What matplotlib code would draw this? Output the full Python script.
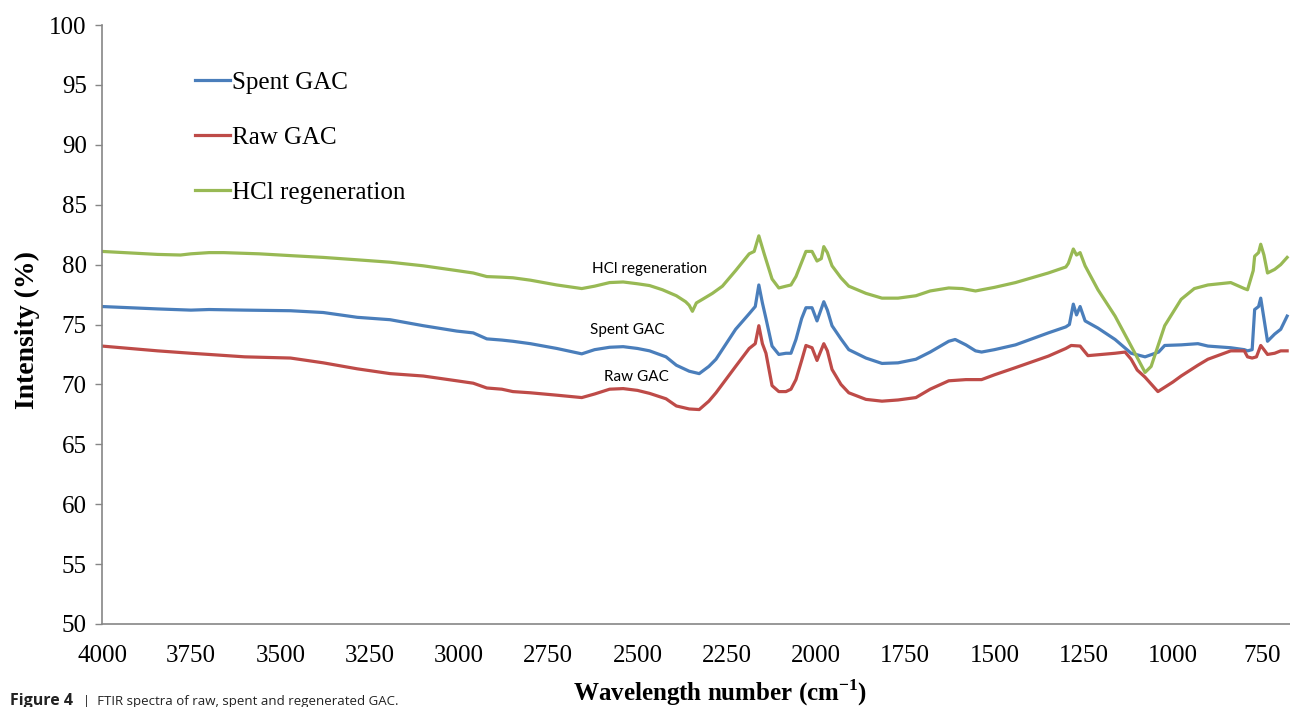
import matplotlib
matplotlib.use("Agg")
import matplotlib.pyplot as plt
import numpy as np

# FTIR spectra (wavenumber in cm-1, intensity in %)
hcl_wn = [4000, 3844, 3780, 3751, 3700, 3659, 3560, 3472, 3380, 3285, 3193, 3100, 3006, 2960,
          2922, 2880, 2849, 2800, 2726, 2656, 2620, 2578, 2540, 2500, 2466, 2430, 2391, 2365,
          2355, 2346, 2335, 2318, 2290, 2262, 2225, 2187, 2173, 2160, 2152, 2145, 2123, 2104,
          2084, 2070, 2056, 2040, 2028, 2011, 1997, 1985, 1978, 1968, 1955, 1930, 1908, 1860,
          1815, 1770, 1720, 1680, 1628, 1590, 1553, 1500, 1441, 1349, 1300, 1293, 1279, 1270,
          1260, 1246, 1210, 1162, 1117, 1078, 1061, 1023, 977, 940, 902, 838, 800, 791, 775,
          771, 760, 754, 745, 735, 715, 698, 680]
hcl_int = [81.1, 80.85, 80.8, 80.9, 81.0, 81.0, 80.9, 80.75, 80.6, 80.4, 80.2, 79.9, 79.5, 79.3,
           79.0, 78.95, 78.9, 78.7, 78.3, 78.0, 78.2, 78.5, 78.55, 78.4, 78.25, 77.9, 77.4, 76.9,
           76.6, 76.1, 76.8, 77.1, 77.6, 78.2, 79.5, 80.9, 81.1, 82.4, 81.6, 80.9, 78.8, 78.05,
           78.2, 78.3, 79.0, 80.2, 81.1, 81.1, 80.3, 80.5, 81.5, 81.0, 79.9, 78.9, 78.2, 77.6,
           77.2, 77.2, 77.4, 77.8, 78.05, 78.0, 77.8, 78.1, 78.5, 79.3, 79.8, 80.1, 81.3, 80.8,
           81.0, 79.9, 77.9, 75.7, 73.2, 71.0, 71.5, 74.9, 77.1, 78.0, 78.3, 78.5, 78.0, 77.9, 79.5,
           80.7, 81.0, 81.7, 80.8, 79.3, 79.6, 80.0, 80.6]

spent_wn = [4000, 3844, 3751, 3700, 3600, 3472, 3380, 3285, 3193, 3100, 3006, 2960, 2922, 2880,
            2849, 2800, 2726, 2656, 2620, 2578, 2540, 2500, 2466, 2420, 2391, 2355, 2327, 2300,
            2280, 2225, 2187, 2170, 2160, 2150, 2140, 2123, 2104, 2084, 2070, 2056, 2040, 2028,
            2011, 1997, 1978, 1968, 1955, 1930, 1908, 1860, 1815, 1770, 1720, 1680, 1628, 1610,
            1580, 1553, 1536, 1500, 1441, 1349, 1300, 1290, 1279, 1270, 1260, 1246, 1210, 1162,
            1117, 1078, 1040, 1023, 977, 930, 902, 838, 800, 791, 778, 771, 760, 754, 745, 735,
            715, 698, 680]
spent_int = [76.5, 76.3, 76.2, 76.25, 76.2, 76.15, 76.0, 75.6, 75.4, 74.9, 74.45, 74.3, 73.8, 73.7,
             73.6, 73.4, 73.0, 72.55, 72.9, 73.1, 73.15, 73.0, 72.8, 72.3, 71.6, 71.1, 70.9, 71.5,
             72.1, 74.6, 75.9, 76.5, 78.3, 76.8, 75.5, 73.2, 72.5, 72.6, 72.6, 73.75, 75.5, 76.4,
             76.4, 75.3, 76.9, 76.2, 74.9, 73.8, 72.9, 72.2, 71.75, 71.8, 72.1, 72.7, 73.6, 73.75,
             73.3, 72.8, 72.7, 72.9, 73.3, 74.3, 74.8, 75.0, 76.7, 75.8, 76.5, 75.3, 74.7, 73.75,
             72.6, 72.3, 72.7, 73.25, 73.3, 73.4, 73.2, 73.06, 72.9, 72.8, 72.9, 76.25, 76.5, 77.2,
             75.5, 73.6, 74.2, 74.6, 75.7]

raw_wn = [4000, 3844, 3751, 3700, 3600, 3472, 3380, 3285, 3193, 3100, 3006, 2960, 2922, 2880,
          2849, 2800, 2726, 2656, 2620, 2578, 2540, 2500, 2466, 2420, 2391, 2355, 2327, 2300,
          2280, 2225, 2187, 2170, 2160, 2150, 2140, 2123, 2104, 2084, 2070, 2056, 2040, 2028,
          2011, 1997, 1978, 1968, 1955, 1930, 1908, 1860, 1815, 1770, 1720, 1680, 1628, 1580,
          1536, 1500, 1441, 1349, 1300, 1285, 1260, 1238, 1200, 1162, 1134, 1117, 1100, 1078,
          1042, 1000, 977, 930, 902, 838, 800, 791, 778, 766, 754, 745, 735, 715, 698, 680]
raw_int = [73.2, 72.8, 72.6, 72.5, 72.3, 72.2, 71.8, 71.3, 70.9, 70.7, 70.3, 70.1, 69.7, 69.6,
           69.4, 69.3, 69.1, 68.9, 69.2, 69.6, 69.65, 69.5, 69.25, 68.8, 68.2, 67.95, 67.9, 68.6,
           69.3, 71.5, 73.0, 73.4, 74.9, 73.4, 72.6, 69.9, 69.4, 69.4, 69.6, 70.4, 72.0, 73.25,
           73.06, 72.0, 73.4, 72.8, 71.25, 70.0, 69.3, 68.75, 68.6, 68.7, 68.9, 69.6, 70.3, 70.4,
           70.4, 70.8, 71.4, 72.36, 73.0, 73.25, 73.2, 72.4, 72.5, 72.6, 72.7, 72.1, 71.2, 70.6,
           69.4, 70.2, 70.7, 71.6, 72.1, 72.8, 72.8, 72.3, 72.2, 72.3, 73.25, 72.9, 72.5, 72.6,
           72.8, 72.8]

x_ticks = [4000, 3750, 3500, 3250, 3000, 2750, 2500, 2250, 2000, 1750, 1500, 1250, 1000, 750]
y_ticks = [50, 55, 60, 65, 70, 75, 80, 85, 90, 95, 100]

blue = "#4a7ebb"
red = "#be4b48"
green = "#98b954"
serif = "Liberation Serif"

plt.rcParams["mathtext.fontset"] = "custom"
plt.rcParams["mathtext.rm"] = serif
plt.rcParams["mathtext.bf"] = serif + ":bold"

W, H = 1290, 707
fig = plt.figure(figsize=(W / 100, H / 100), dpi=100)
ax = fig.add_axes([102 / W, (H - 624) / H, (W - 102) / W, (624 - 25) / H])

ax.plot(spent_wn, spent_int, color=blue, lw=2.3, label="Spent GAC")
ax.plot(raw_wn, raw_int, color=red, lw=2.3, label="Raw GAC")
ax.plot(hcl_wn, hcl_int, color=green, lw=2.3, label="HCl regeneration")

ax.set_xlim(4000, 672)
ax.set_ylim(50, 100)
ax.set_xticks(x_ticks)
ax.set_yticks(y_ticks)
ax.tick_params(axis="x", length=0, pad=15)
ax.tick_params(axis="y", length=5, width=1, color="#868686", pad=6)
for lab in ax.get_xticklabels() + ax.get_yticklabels():
    lab.set_fontfamily(serif)
    lab.set_fontsize(18)

for side in ["top", "right"]:
    ax.spines[side].set_visible(False)
for side in ["left", "bottom"]:
    ax.spines[side].set_color("#868686")
    ax.spines[side].set_linewidth(1.2)

ax.set_xlabel("Wavelength number (cm$^{\\mathbf{-1}}$)", fontfamily=serif, fontsize=18,
              fontweight="bold")
ax.set_ylabel("Intensity (%)", fontfamily=serif, fontsize=20, fontweight="bold")
ax.xaxis.set_label_coords((720 - 102) / (W - 102), -0.09)
ax.yaxis.set_label_coords(-(102 - 40) / (W - 102), 0.49)

leg = ax.legend(loc="upper left", bbox_to_anchor=((195 - 102) / (W - 102), (624 - 71) / (624 - 25)),
                frameon=False, prop={"family": serif, "size": 18}, handlelength=1.4,
                handletextpad=0.1, labelspacing=1.3, borderpad=0, borderaxespad=0)

ax.text(2466, 79.6, "HCl regeneration", fontfamily="Lato", fontsize=11, ha="center", va="center")
ax.text(2528, 74.55, "Spent GAC", fontfamily="Lato", fontsize=11, ha="center", va="center")
ax.text(2503, 70.65, "Raw GAC", fontfamily="Lato", fontsize=11, ha="center", va="center")

fig.text(10 / W, 1 - 701 / H, "Figure 4", fontfamily="Open Sans", fontweight="bold", fontsize=11.5,
         va="center", ha="left", color="#222222")
fig.text(83 / W, 1 - 701 / H, "|  FTIR spectra of raw, spent and regenerated GAC.",
         fontfamily="Open Sans", fontsize=9.5, va="center", ha="left", color="#222222")

fig.savefig("out.png", dpi=100)
